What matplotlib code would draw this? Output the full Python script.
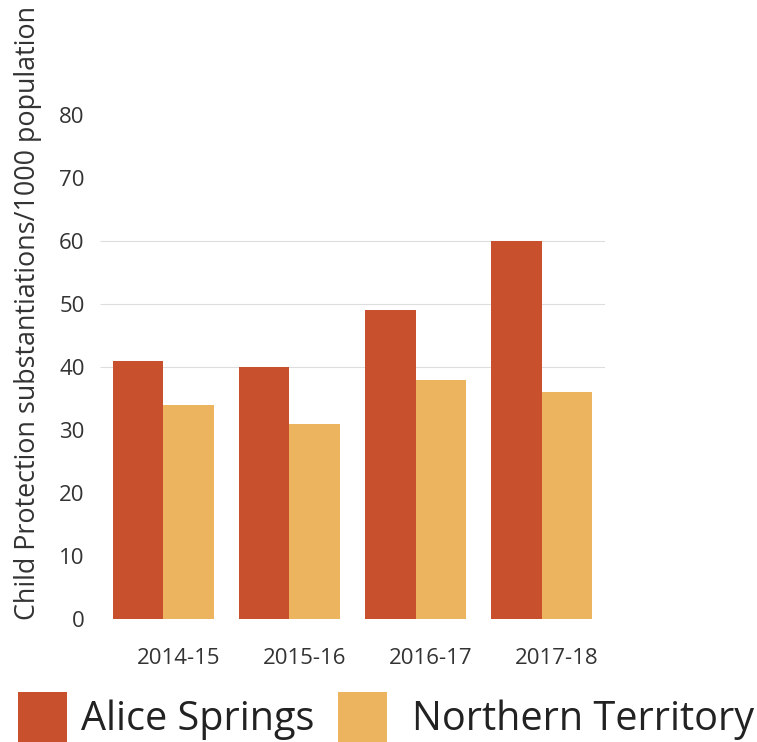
import matplotlib
matplotlib.use("Agg")
import matplotlib.pyplot as plt
import numpy as np

# ── data ──
years = ["2014-15", "2015-16", "2016-17", "2017-18"]
alice_springs = [41, 40, 49, 60]
northern_territory = [34, 31, 38, 36]
y_ticks = [0, 10, 20, 30, 40, 50, 60, 70, 80]
grid_vals = [40, 50, 60]

red = "#C8502D"
yellow = "#EDB45F"
text_color = "#333333"

plt.rcParams["font.family"] = ["Open Sans", "DejaVu Sans"]

fig = plt.figure(figsize=(7.57, 7.42), dpi=100)
ax = fig.add_axes([100 / 757, 123 / 742, 505 / 757, 504 / 742])

x = np.arange(len(years))
w = 0.4
b1 = ax.bar(x - w / 2, alice_springs, w, color=red, label="Alice Springs", zorder=2)
b2 = ax.bar(x + w / 2, northern_territory, w, color=yellow, label="Northern Territory", zorder=2)

# only the middle gridlines show in the original
ax.hlines(grid_vals, -0.5, 3.5, colors="#dddddd", linewidth=0.8, zorder=1)

ax.set_xlim(-0.5, 3.5)
ax.set_ylim(0, 80)
ax.set_yticks(y_ticks)
ax.set_xticks(x + 0.12)
ax.set_xticklabels(years)
ax.tick_params(axis="both", length=0, labelsize=16, colors=text_color)
ax.tick_params(axis="y", pad=11)
ax.tick_params(axis="x", pad=21)
for s in ax.spines.values():
    s.set_visible(False)

ax.set_ylabel("Child Protection substantiations/1000 population",
              fontsize=19.4, color=text_color)
ax.yaxis.set_label_coords(-58 / 505, 0.607)

# legend: one entry per legend so each gap can be matched
leg_kw = dict(loc="center left", frameon=False, fontsize=28.5,
              handlelength=1.25, handleheight=1.6, borderpad=0,
              borderaxespad=0, labelcolor="#222222")
fig.legend(handles=[b1], bbox_to_anchor=(18 / 757, 25 / 742),
           handletextpad=0.33, **leg_kw)
fig.legend(handles=[b2], bbox_to_anchor=(338 / 757, 25 / 742),
           handletextpad=0.62, **leg_kw)

fig.savefig("out.png", dpi=100, facecolor="white")
